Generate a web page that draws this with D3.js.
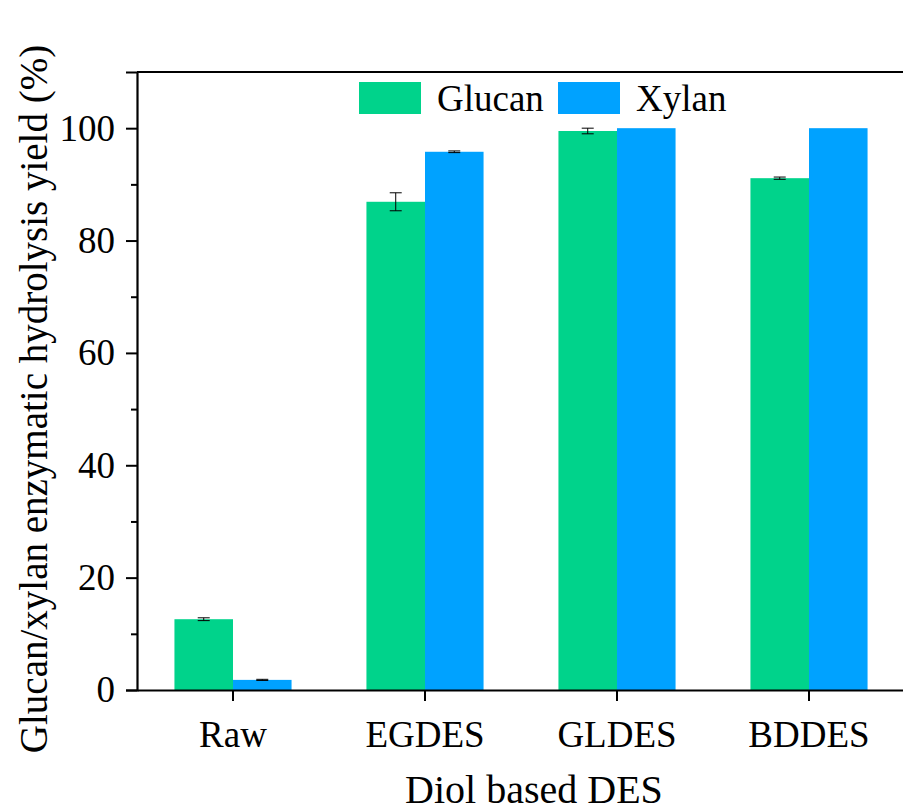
<!DOCTYPE html>
<html>
<head>
<meta charset="utf-8">
<script src="https://cdn.jsdelivr.net/npm/d3@7"></script>
<style>
  html, body { margin: 0; padding: 0; background: #fff; }
  svg { display: block; }
  svg text { font-family: "Liberation Serif", "Times New Roman", serif; fill: #000; }
</style>
</head>
<body>
<div id="chart"></div>
<script>
// categories and series
var CATEGORIES = ["Raw", "EGDES", "GLDES", "BDDES"];
var SERIES = ["Glucan", "Xylan"];
var GLUCAN = [12.6, 86.9, 99.5, 91.1];
var GLUCAN_ERR = [0.25, 1.6, 0.5, 0.2];
var XYLAN = [1.8, 95.8, 100, 100];
var XYLAN_ERR = [0.1, 0.15, 0, 0];
var Y_TICKS = [0, 20, 40, 60, 80, 100];
var Y_MINOR = [10, 30, 50, 70, 90];

var COLORS = { Glucan: "#00d38b", Xylan: "#00a2ff" };
var SERIF = "Liberation Serif, Times New Roman, serif";

var width = 903, height = 812;
var margin = { top: 72, left: 137, bottom: 122 };

var svg = d3.select("#chart").append("svg")
  .attr("width", width)
  .attr("height", height);

var x = d3.scaleBand()
  .domain(CATEGORIES)
  .range([margin.left, margin.left + 768])
  .paddingInner(0.39)
  .paddingOuter(0.195);

var x1 = d3.scaleBand()
  .domain(SERIES)
  .range([0, x.bandwidth()]);

var y = d3.scaleLinear()
  .domain([0, 110])
  .range([height - margin.bottom, margin.top]);

var rows = CATEGORIES.map(function(c, i) {
  return [
    { cat: c, key: "Glucan", v: GLUCAN[i], e: GLUCAN_ERR[i] },
    { cat: c, key: "Xylan", v: XYLAN[i], e: XYLAN_ERR[i] }
  ];
});

// bars
var groups = svg.selectAll(".grp")
  .data(rows)
  .enter().append("g")
  .attr("transform", function(d) { return "translate(" + x(d[0].cat) + ",0)"; });

groups.selectAll("rect")
  .data(function(d) { return d; })
  .enter().append("rect")
  .attr("x", function(d) { return x1(d.key); })
  .attr("y", function(d) { return y(d.v); })
  .attr("width", x1.bandwidth())
  .attr("height", function(d) { return y(0) - y(d.v); })
  .attr("fill", function(d) { return COLORS[d.key]; });

// error bars
var errs = groups.selectAll(".err")
  .data(function(d) { return d.filter(function(r) { return r.e > 0; }); })
  .enter().append("g")
  .attr("class", "err")
  .attr("stroke", "#000")
  .attr("stroke-width", 1);

errs.append("line")
  .attr("x1", function(d) { return x1(d.key) + x1.bandwidth() / 2; })
  .attr("x2", function(d) { return x1(d.key) + x1.bandwidth() / 2; })
  .attr("y1", function(d) { return y(d.v + d.e); })
  .attr("y2", function(d) { return y(d.v - d.e); });

[1, -1].forEach(function(s) {
  errs.append("line")
    .attr("x1", function(d) { return x1(d.key) + x1.bandwidth() / 2 - 6; })
    .attr("x2", function(d) { return x1(d.key) + x1.bandwidth() / 2 + 6; })
    .attr("y1", function(d) { return y(d.v + s * d.e); })
    .attr("y2", function(d) { return y(d.v + s * d.e); });
});

// y axis
svg.append("g")
  .attr("transform", "translate(" + margin.left + ",0)")
  .call(d3.axisLeft(y).tickValues(Y_TICKS).tickSize(11).tickPadding(11).tickFormat(d3.format("d")));

svg.append("g")
  .attr("transform", "translate(" + margin.left + ",0)")
  .call(d3.axisLeft(y).tickValues(Y_MINOR).tickSize(6).tickFormat(""))
  .select(".domain").remove();

// x axis
svg.append("g")
  .attr("transform", "translate(0," + y(0) + ")")
  .call(d3.axisBottom(x).tickSize(11).tickPadding(20).tickSizeOuter(0));

svg.selectAll(".tick line").attr("stroke-width", 2);
svg.selectAll(".domain").attr("stroke-width", 2.2);
svg.selectAll(".tick text")
  .attr("font-family", SERIF)
  .attr("font-size", 37)
  .attr("fill", "#000");

// top frame line
svg.append("line")
  .attr("x1", margin.left).attr("x2", width)
  .attr("y1", margin.top).attr("y2", margin.top)
  .attr("stroke", "#000").attr("stroke-width", 2.2);

// axis titles
svg.append("text")
  .attr("x", 534)
  .attr("y", 803)
  .attr("text-anchor", "middle")
  .attr("font-family", SERIF)
  .attr("font-size", 40)
  .text("Diol based DES");

svg.append("text")
  .attr("transform", "translate(47,399) rotate(-90)")
  .attr("text-anchor", "middle")
  .attr("font-family", SERIF)
  .attr("font-size", 39)
  .text("Glucan/xylan enzymatic hydrolysis yield (%)");

// legend
var legend = svg.append("g").attr("transform", "translate(359,82)");
var items = legend.selectAll(".li")
  .data(SERIES)
  .enter().append("g")
  .attr("transform", function(d, i) { return "translate(" + (i * 199) + ",0)"; });

items.append("rect")
  .attr("width", 62)
  .attr("height", 32)
  .attr("fill", function(d) { return COLORS[d]; });

items.append("text")
  .attr("x", 78)
  .attr("y", 29)
  .attr("font-family", SERIF)
  .attr("font-size", 37)
  .text(function(d) { return d; });
</script>
</body>
</html>
